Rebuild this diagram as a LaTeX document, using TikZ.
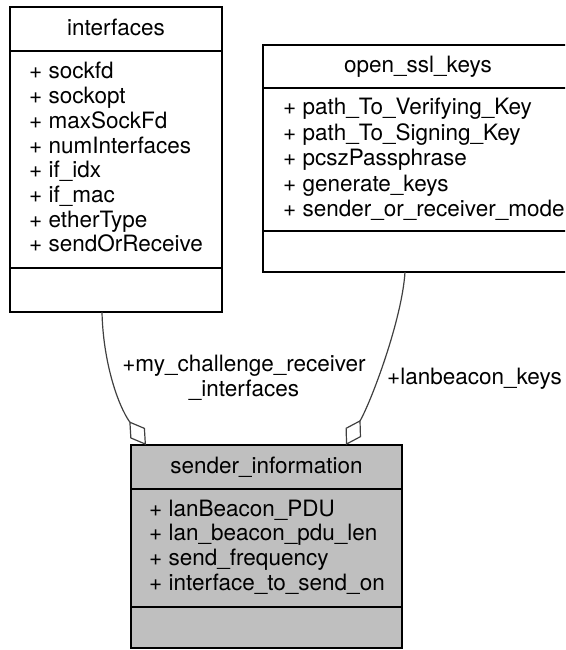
\documentclass[tikz,border=0pt]{standalone}
\usepackage{fontspec}
\setmainfont{TeX Gyre Heros}
\usetikzlibrary{arrows.meta}
\definecolor{edgegray}{RGB}{64,64,64}
\definecolor{boxgray}{RGB}{191,191,191}
\begin{document}
\begin{tikzpicture}[x=1pt,y=-1pt,
  font=\fontsize{22.5}{24.7}\selectfont,
  umlbox/.style={draw=black,line width=1.5pt,inner sep=0pt,outer sep=0pt,anchor=north west,rectangle},
  sepline/.style={draw=black,line width=1.5pt},
  title/.style={anchor=base,inner sep=0pt},
  member/.style={anchor=base west,inner sep=0pt},
  conn/.style={draw=edgegray,line width=1.2pt,-{Diamond[open,length=29pt,width=18pt,line width=1.2pt]}},
  lbl/.style={inner sep=0pt}]
\useasboundingbox (0,0) rectangle (565,650);
\clip (0,0) rectangle (565,650);
% interfaces
\node[umlbox,fill=white,minimum width=212pt,minimum height=305pt] (ifbox) at (10,7) {};
\draw[sepline] (ifbox.west |- 0,51) -- (ifbox.east |- 0,51);
\draw[sepline] (ifbox.west |- 0,268) -- (ifbox.east |- 0,268);
\node[title] (iftitle) at (116,35.5) {interfaces};
\foreach \t [count=\i] in {sockfd,sockopt,maxSockFd,numInterfaces,if\_idx,if\_mac,etherType,sendOrReceive}
  \node[member] (if\i) at (29,{79+24.7*(\i-1)}) {+ \t};
% open_ssl_keys
\node[umlbox,fill=white,minimum width=310pt,minimum height=227pt] (sslbox) at (263,45) {};
\draw[sepline] (sslbox.west |- 0,88) -- (sslbox.east |- 0,88);
\draw[sepline] (sslbox.west |- 0,231) -- (sslbox.east |- 0,231);
\node[title] (ssltitle) at (418,73) {open\_ssl\_keys};
\foreach \t [count=\i] in {path\_To\_Verifying\_Key,path\_To\_Signing\_Key,pcszPassphrase,generate\_keys,sender\_or\_receiver\_mode}
  \node[member] (ssl\i) at (283,{115+25.4*(\i-1)}) {+ \t};
% sender_information
\node[umlbox,fill=boxgray,minimum width=271pt,minimum height=203pt] (sibox) at (131,445) {};
\draw[sepline] (sibox.west |- 0,489) -- (sibox.east |- 0,489);
\draw[sepline] (sibox.west |- 0,607) -- (sibox.east |- 0,607);
\node[title] (sititle) at (266.5,473) {sender\_information};
\foreach \t [count=\i] in {lanBeacon\_PDU,lan\_beacon\_pdu\_len,send\_frequency,interface\_to\_send\_on}
  \node[member] (si\i) at (149,{516+24.7*(\i-1)}) {+ \t};
% connectors
\draw[conn] ([xshift=-14pt]ifbox.south) .. controls (103,360) and (117,404) .. ([xshift=-120.5pt]sibox.north);
\draw[conn] ([xshift=-13pt]sslbox.south) .. controls (402,320) and (371,402) .. ([xshift=79.5pt]sibox.north);
% labels
\node[lbl,anchor=base] (lab1a) at (244,371.7) {+my\_challenge\_receiver};
\node[lbl,anchor=base] (lab1b) at (244,396.4) {\_interfaces};
\node[lbl,anchor=base west] (lab2) at (387,384) {+lanbeacon\_keys};
\end{tikzpicture}
\end{document}
